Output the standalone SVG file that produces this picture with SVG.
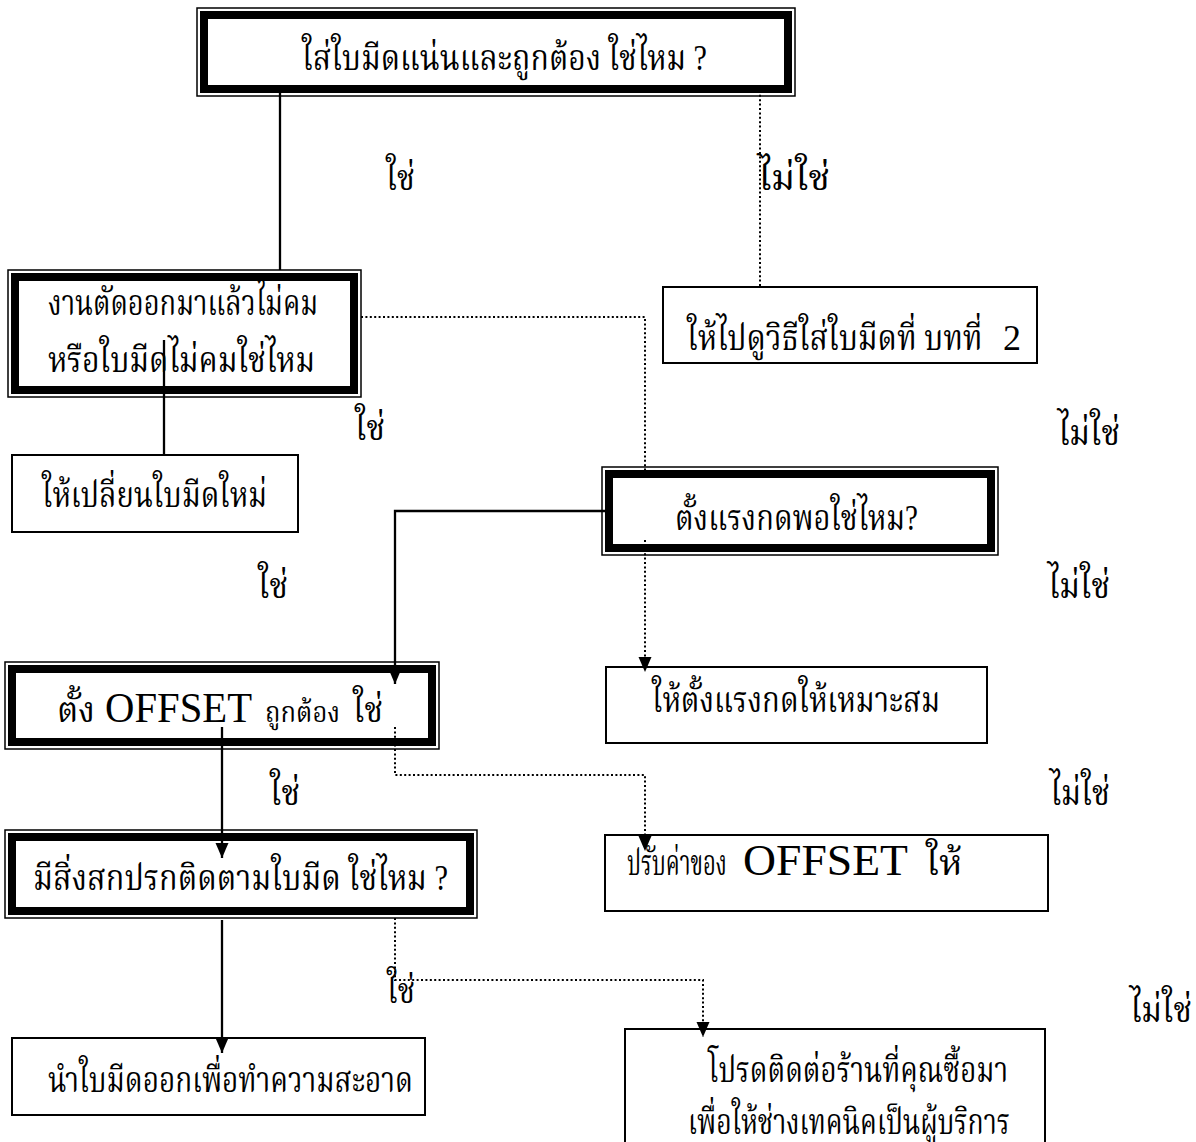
<svg xmlns="http://www.w3.org/2000/svg" width="1196" height="1142" viewBox="0 0 1196 1142">
<style>
.thin{fill:#fff;stroke:#000;stroke-width:1.5}
.thick{fill:none;stroke:#000;stroke-width:8}
.box{fill:#fff;stroke:#000;stroke-width:2}
.solid{fill:none;stroke:#000;stroke-width:2.3}
.dot{fill:none;stroke:#000;stroke-width:2;stroke-dasharray:2 2.4}
.t{font-family:'Liberation Serif','Noto Serif Thai','Noto Sans Thai',serif;font-size:35px;fill:#000}
.lat{font-family:'Liberation Serif',serif;fill:#000}
</style>
<defs>
<marker id="arr" markerUnits="userSpaceOnUse" markerWidth="16" markerHeight="14" refX="15" refY="6.5" orient="auto"><path d="M0,0 L15,6.5 L0,13 z" fill="#000"/></marker>
</defs>
<rect width="1196" height="1142" fill="#fff"/>

<g id="n1">
<rect class="thin" x="197" y="8" width="598" height="88"/>
<rect class="thick" x="204" y="15" width="584" height="74"/>
<text class="t" x="302" y="70" textLength="405" lengthAdjust="spacingAndGlyphs">ใส่ใบมีดแน่นและถูกต้อง ใช่ไหม ?</text>
</g>

<g id="n2">
<rect class="thin" x="8" y="270" width="353" height="127"/>
<rect class="thick" x="15" y="277" width="339" height="113"/>
<text class="t" x="48" y="315" textLength="270" lengthAdjust="spacingAndGlyphs">งานตัดออกมาแล้วไม่คม</text>
<text class="t" x="48" y="372" textLength="267" lengthAdjust="spacingAndGlyphs">หรือใบมีดไม่คมใช่ไหม</text>
</g>

<g id="n3">
<rect class="box" x="663" y="287" width="374" height="76"/>
<text class="t" transform="translate(687,350) scale(0.865,1)">ให้ไปดูวิธีใส่ใบมีดที่ บทที่</text>
<text class="lat" x="1003" y="350" font-size="36">2</text>
</g>

<g id="n4">
<rect class="box" x="12" y="455" width="286" height="77"/>
<text class="t" x="42" y="507" textLength="225" lengthAdjust="spacingAndGlyphs">ให้เปลี่ยนใบมีดใหม่</text>
</g>

<g id="n5">
<rect class="thin" x="602" y="467" width="396" height="88"/>
<rect class="thick" x="609" y="474" width="382" height="74"/>
<text class="t" x="675" y="530" textLength="243" lengthAdjust="spacingAndGlyphs">ตั้งแรงกดพอใช่ไหม?</text>
</g>

<g id="n6">
<rect class="thin" x="5" y="662" width="434" height="87"/>
<rect class="thick" x="12" y="669" width="420" height="73"/>
<text class="t" x="57" y="722"><tspan textLength="38" lengthAdjust="spacingAndGlyphs">ตั้ง</tspan><tspan class="lat" x="105" font-size="42" textLength="147" lengthAdjust="spacingAndGlyphs">OFFSET</tspan><tspan x="265" font-size="29" textLength="75" lengthAdjust="spacingAndGlyphs">ถูกต้อง</tspan><tspan x="353" textLength="30" lengthAdjust="spacingAndGlyphs">ใช่</tspan></text>
</g>

<g id="n7">
<rect class="box" x="606" y="667" width="381" height="76"/>
<text class="t" x="652" y="712" textLength="288" lengthAdjust="spacingAndGlyphs">ให้ตั้งแรงกดให้เหมาะสม</text>
</g>

<g id="n8">
<rect class="thin" x="5" y="830" width="472" height="88"/>
<rect class="thick" x="12" y="837" width="458" height="74"/>
<text class="t" x="33" y="890" textLength="415" lengthAdjust="spacingAndGlyphs">มีสิ่งสกปรกติดตามใบมีด ใช่ไหม ?</text>
</g>

<g id="n9">
<rect class="box" x="605" y="835" width="443" height="76"/>
<text class="t" transform="translate(627,875) scale(0.63,1)">ปรับค่าของ</text>
<text class="lat" x="743" y="875" font-size="44" textLength="165" lengthAdjust="spacingAndGlyphs">OFFSET</text>
<text class="t" x="926" y="875" textLength="36" lengthAdjust="spacingAndGlyphs">ให้</text>
</g>

<g id="n10">
<rect class="box" x="12" y="1038" width="413" height="77"/>
<text class="t" x="48" y="1092" textLength="365" lengthAdjust="spacingAndGlyphs">นำใบมีดออกเพื่อทำความสะอาด</text>
</g>

<g id="n11">
<rect class="box" x="625" y="1029" width="420" height="130"/>
<text class="t" x="708" y="1082" textLength="300" lengthAdjust="spacingAndGlyphs">โปรดติดต่อร้านที่คุณซื้อมา</text>
<text class="t" x="688" y="1134" textLength="322" lengthAdjust="spacingAndGlyphs">เพื่อให้ช่างเทคนิคเป็นผู้บริการ</text>
</g>

<g id="connectors">
<line class="solid" x1="280" y1="86" x2="280" y2="270"/>
<line class="dot" x1="760" y1="86" x2="760" y2="287"/>
<line class="solid" x1="164" y1="340" x2="164" y2="455"/>
<polyline class="dot" points="361,317 645,317 645,472"/>
<polyline class="solid" points="609,511 395,511 395,684" marker-end="url(#arr)"/>
<line class="dot" x1="645" y1="540" x2="645" y2="672" marker-end="url(#arr)"/>
<line class="solid" x1="222" y1="727" x2="222" y2="858" marker-end="url(#arr)"/>
<polyline class="dot" points="395,727 395,775 645,775 645,851" marker-end="url(#arr)"/>
<line class="solid" x1="222" y1="920" x2="222" y2="1053" marker-end="url(#arr)"/>
<polyline class="dot" points="395,918 395,980 703,980 703,1037" marker-end="url(#arr)"/>
</g>

<g id="labels">
<text class="t" x="386" y="190" textLength="29" lengthAdjust="spacingAndGlyphs">ใช่</text>
<text class="t" x="758" y="190" textLength="72" lengthAdjust="spacingAndGlyphs">ไม่ใช่</text>
<text class="t" x="355" y="440" textLength="30" lengthAdjust="spacingAndGlyphs">ใช่</text>
<text class="t" x="1058" y="445" textLength="62" lengthAdjust="spacingAndGlyphs">ไม่ใช่</text>
<text class="t" x="258" y="598" textLength="30" lengthAdjust="spacingAndGlyphs">ใช่</text>
<text class="t" x="1048" y="598" textLength="62" lengthAdjust="spacingAndGlyphs">ไม่ใช่</text>
<text class="t" x="270" y="805" textLength="30" lengthAdjust="spacingAndGlyphs">ใช่</text>
<text class="t" x="1050" y="805" textLength="60" lengthAdjust="spacingAndGlyphs">ไม่ใช่</text>
<text class="t" x="387" y="1003" textLength="28" lengthAdjust="spacingAndGlyphs">ใช่</text>
<text class="t" x="1130" y="1022" textLength="62" lengthAdjust="spacingAndGlyphs">ไม่ใช่</text>
</g>
</svg>
